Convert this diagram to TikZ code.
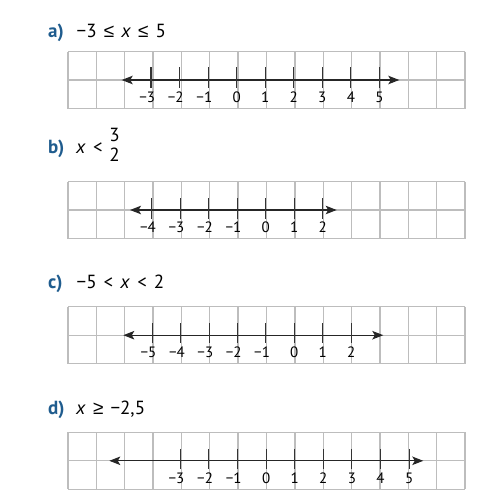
\documentclass[tikz,border=0pt]{standalone}
\usepackage{fontspec}
\setmainfont[WordSpace=1.4]{PT Sans}
\newfontfamily\symfont{Liberation Sans}
\usetikzlibrary{arrows.meta}
\definecolor{titleblue}{HTML}{1F5C8E}
\definecolor{gridgray}{HTML}{BDBDBD}
\newcommand\mynumgrid[1]{%
  \foreach \i in {0,...,14} \draw[gridline] ({68+\i*28.357},#1) -- ++(0,57);
  \foreach \j in {0,1,2} \draw[gridline] (68,{#1+\j*28.5}) -- (465,{#1+\j*28.5});
}
\newcommand\myle{{\symfont ≤}}
\newcommand\myge{{\symfont ≥}}
\begin{document}
\begin{tikzpicture}[x=1pt,y=-1pt,
  gridline/.style={draw=gridgray, line width=1.3pt},
  axisline/.style={line width=1.2pt, draw=black!85,
    {Stealth[length=11pt,width=8.5pt,inset=2.5pt]}-{Stealth[length=11pt,width=8.5pt,inset=2.5pt]}},
  tickline/.style={line width=1.1pt, draw=black!80},
  lbl/.style={font=\fontsize{15}{15}\selectfont, anchor=base, inner sep=0pt},
  ttl/.style={font=\fontsize{19}{19}\selectfont\bfseries, text=titleblue, anchor=base west, inner sep=0pt},
  ineq/.style={font=\fontsize{19}{19}\selectfont, anchor=base west, inner sep=0pt},
  fracdigit/.style={font=\fontsize{19}{19}\selectfont, anchor=base, inner sep=0pt}]
\useasboundingbox (0,0) rectangle (479,498);

% ---------- a ----------
\node[ttl] (ta) at (48,37) {a)};
\node[ineq] (ia) at (76.5,37) {−3 \myle{} \textit{x} \myle{} 5};
\mynumgrid{51.5}
\coordinate (aL) at (121.7,80);
\coordinate (aR) at (399.3,80);
\draw[axisline] (aL) -- (aR);
\foreach \v in {-3,...,5}{
  \coordinate (at\v) at ({151+(\v+3)*28.55},80);
  \draw[tickline] ([yshift=13pt]at\v) -- ([yshift=-8pt]at\v);
  \pgfmathtruncatemacro\av{abs(\v)}
  \ifnum\v<0
    \node[lbl] (al\v) at ([yshift=-22.5pt]at\v) {\llap{−}\av};
  \else
    \node[lbl] (al\v) at ([yshift=-22.5pt]at\v) {\av};
  \fi
}

% ---------- b ----------
\node[ttl] (tb) at (48,153.3) {b)};
\node[ineq] (ib) at (76,153.3) {\textit{x} <};
\node[fracdigit] (fn) at (114.5,141) {3};
\node[fracdigit] (fd) at (114.5,161.5) {2};
\mynumgrid{181.5}
\coordinate (bL) at (130,210);
\coordinate (bR) at (336.7,210);
\draw[axisline] (bL) -- (bR);
\foreach \v in {-4,...,2}{
  \coordinate (bt\v) at ({151.7+(\v+4)*28.5},210);
  \draw[tickline] ([yshift=12pt]bt\v) -- ([yshift=-9pt]bt\v);
  \pgfmathtruncatemacro\av{abs(\v)}
  \ifnum\v<0
    \node[lbl] (bl\v) at ([yshift=-22.5pt]bt\v) {\llap{−}\av};
  \else
    \node[lbl] (bl\v) at ([yshift=-22.5pt]bt\v) {\av};
  \fi
}

% ---------- c ----------
\node[ttl] (tc) at (48,288.5) {c)};
\node[ineq] (ic) at (76.5,288.5) {−5 < \textit{x} < 2};
\mynumgrid{306.7}
\coordinate (cL) at (123.3,335.2);
\coordinate (cR) at (383.3,335.2);
\draw[axisline] (cL) -- (cR);
\foreach \v in {-5,...,2}{
  \coordinate (ct\v) at ({152.3+(\v+5)*28.4},335.2);
  \draw[tickline] ([yshift=12pt]ct\v) -- ([yshift=-8pt]ct\v);
  \pgfmathtruncatemacro\av{abs(\v)}
  \ifnum\v<0
    \node[lbl] (cl\v) at ([yshift=-22.5pt]ct\v) {\llap{−}\av};
  \else
    \node[lbl] (cl\v) at ([yshift=-22.5pt]ct\v) {\av};
  \fi
}

% ---------- d ----------
\node[ttl] (td) at (48,414.3) {d)};
\node[ineq] (id) at (76,414.3) {\textit{x} \myge{} −2,5};
\mynumgrid{432.3}
\coordinate (dL) at (109.3,460.8);
\coordinate (dR) at (423.3,460.8);
\draw[axisline] (dL) -- (dR);
\foreach \v in {-3,...,5}{
  \coordinate (dt\v) at ({180.3+(\v+3)*28.6},460.8);
  \draw[tickline] ([yshift=12pt]dt\v) -- ([yshift=-8pt]dt\v);
  \pgfmathtruncatemacro\av{abs(\v)}
  \ifnum\v<0
    \node[lbl] (dl\v) at ([yshift=-22.5pt]dt\v) {\llap{−}\av};
  \else
    \node[lbl] (dl\v) at ([yshift=-22.5pt]dt\v) {\av};
  \fi
}
\end{tikzpicture}
\end{document}
